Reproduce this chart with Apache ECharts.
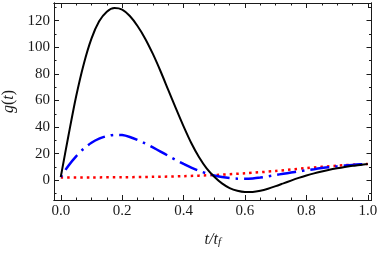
<!DOCTYPE html>
<html>
<head>
<meta charset="utf-8">
<script src="https://cdn.jsdelivr.net/npm/echarts@6/dist/echarts.min.js"></script>
<style>html,body{margin:0;padding:0;background:#fff;}#c{width:379px;height:253px;}</style>
</head>
<body>
<div id="c"></div>
<script>
const tValues = [0,0.025,0.05,0.075,0.1,0.125,0.15,0.175,0.2,0.225,0.25,0.275,0.3,0.325,0.35,0.375,0.4,0.425,0.45,0.475,0.5,0.525,0.55,0.575,0.6,0.625,0.65,0.675,0.7,0.725,0.75,0.775,0.8,0.825,0.85,0.875,0.9,0.925,0.95,0.975,1.0];
const blackG = [2.5,33.5,63,87.5,106.5,119.5,126.8,129.5,128.3,123.5,116,106.5,95,82,68,54,40.5,28,17.5,9,2.7,-2.3,-5.8,-7.9,-8.8,-8.7,-7.8,-6.3,-4.4,-2.3,-0.2,1.8,3.6,5.2,6.6,7.9,9.0,10.0,10.9,11.6,12.3];
const blueG = [2.5,11,18,23.8,28.2,31.3,33.2,34.2,34,32.6,30.4,27.7,24.7,21.6,18.4,15.3,12.4,9.6,7.2,5.2,3.6,2.5,1.7,1.2,1.1,1.4,2.1,3,4,4.9,5.8,6.7,7.6,8.4,9.2,9.9,10.5,11.1,11.6,12,12.3];
const redT = [0,0.1,0.2,0.3,0.4,0.5,0.6,0.7,0.8,0.9,1.0];
const redG = [2.2,2.2,2.3,2.6,3.1,4.0,5.3,7.0,9.2,11.0,12.3];
const xMajor = [0,0.2,0.4,0.6,0.8,1.0];
const xMinor = [0.05,0.1,0.15,0.25,0.3,0.35,0.45,0.5,0.55,0.65,0.7,0.75,0.85,0.9,0.95];
const yMajor = [0,20,40,60,80,100,120];
const yMinor = [-10,10,30,50,70,90,110,130];

const pair = (xs, ys) => xs.map((x, i) => [x, ys[i]]);
const serif = '"Liberation Serif","DejaVu Serif",serif';
const lineCol = '#1a1a1a';
const X_MIN = -0.022, X_MAX = 1.012, Y_MIN = -14.8, Y_MAX = 133.3;

function xAx(pos, vals, len, labels, extra) {
  return Object.assign({
    type: 'value', min: X_MIN, max: X_MAX, position: pos,
    axisLine: { show: true, onZero: false, lineStyle: { color: lineCol, width: 1 } },
    axisTick: { show: true, inside: true, length: len, customValues: vals, lineStyle: { color: lineCol, width: 1 } },
    axisLabel: labels ? { show: true, customValues: vals, formatter: v => v.toFixed(1), color: '#1a1a1a', fontFamily: serif, fontSize: 15, margin: 4 } : { show: false },
    splitLine: { show: false }
  }, extra || {});
}
function yAx(pos, vals, len, labels, extra) {
  return Object.assign({
    type: 'value', min: Y_MIN, max: Y_MAX, position: pos,
    axisLine: { show: true, onZero: false, lineStyle: { color: lineCol, width: 1 } },
    axisTick: { show: true, inside: true, length: len, customValues: vals, lineStyle: { color: lineCol, width: 1 } },
    axisLabel: labels ? { show: true, customValues: vals, formatter: v => String(v), color: '#1a1a1a', fontFamily: serif, fontSize: 15, margin: 4 } : { show: false },
    splitLine: { show: false }
  }, extra || {});
}

const chart = echarts.init(document.getElementById('c'));
chart.setOption({
  animation: false,
  backgroundColor: '#fff',
  grid: { left: 54, right: 7.5, top: 3, bottom: 53, containLabel: false, outerBoundsMode: 'none' },
  xAxis: [
    xAx('bottom', xMajor, 5, true, {
      name: '{a|t/t}{b|f}', nameLocation: 'middle', nameGap: 32,
      nameTextStyle: { rich: {
        a: { fontFamily: serif, fontStyle: 'italic', fontSize: 16, lineHeight: 16, verticalAlign: 'top', color: '#1a1a1a' },
        b: { fontFamily: serif, fontStyle: 'italic', fontSize: 11, lineHeight: 11, padding: [8, 0, 0, 0], verticalAlign: 'bottom', color: '#1a1a1a' }
      } }
    }),
    xAx('bottom', xMinor, 2.5, false),
    xAx('top', xMajor, 5, false),
    xAx('top', xMinor, 2.5, false)
  ],
  yAxis: [
    yAx('left', yMajor, 5, true, {
      name: '{i|g}{n|(}{i|t}{n|)}', nameLocation: 'middle', nameGap: 35, nameRotate: 90,
      nameTextStyle: { rich: {
        i: { fontFamily: serif, fontStyle: 'italic', fontSize: 16, color: '#1a1a1a' },
        n: { fontFamily: serif, fontSize: 16, color: '#1a1a1a' }
      } }
    }),
    yAx('left', yMinor, 2.5, false),
    yAx('right', yMajor, 5, false),
    yAx('right', yMinor, 2.5, false)
  ],
  series: [
    { type: 'line', xAxisIndex: 0, yAxisIndex: 0, data: pair(redT, redG), smooth: 0.3, showSymbol: false, z: 3,
      lineStyle: { color: '#ff0000', width: 2.5, type: [2.5, 4], cap: 'butt' } },
    { type: 'line', xAxisIndex: 0, yAxisIndex: 0, data: pair(tValues, blueG), smooth: 0.3, showSymbol: false, z: 4,
      lineStyle: { color: '#0000ff', width: 2.5, type: [19, 6, 2.5, 6], dashOffset: 25, cap: 'butt' } },
    { type: 'line', xAxisIndex: 0, yAxisIndex: 0, data: pair(tValues, blackG), smooth: 0.3, showSymbol: false, z: 5,
      lineStyle: { color: '#000000', width: 2 } }
  ]
});
</script>
</body>
</html>
